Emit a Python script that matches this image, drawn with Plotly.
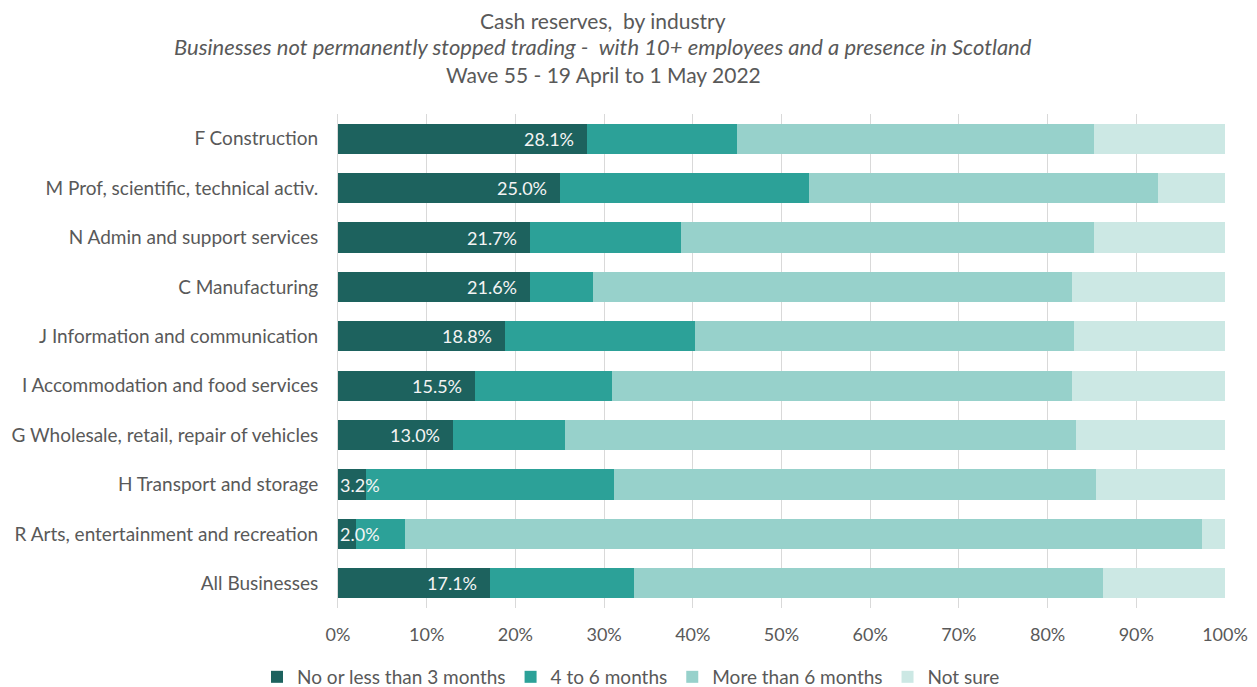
import plotly.graph_objects as go

categories = [
    "F Construction",
    "M Prof, scientific, technical activ.",
    "N Admin and support services",
    "C Manufacturing",
    "J Information and communication",
    "I Accommodation and food services",
    "G Wholesale, retail, repair of vehicles",
    "H Transport and storage",
    "R Arts, entertainment and recreation",
    "All Businesses",
]
no_or_less_3 = [28.1, 25.0, 21.7, 21.6, 18.8, 15.5, 13.0, 3.2, 2.0, 17.1]
m4_to_6 = [16.9, 28.1, 17.0, 7.2, 21.5, 15.4, 12.6, 27.9, 5.6, 16.3]
more_6 = [40.2, 39.3, 46.5, 54.0, 42.7, 51.8, 57.6, 54.3, 89.8, 52.8]
not_sure = [14.8, 7.6, 14.8, 17.2, 17.0, 17.3, 16.8, 14.6, 2.6, 13.8]

series_names = ["No or less than 3 months", "4 to 6 months", "More than 6 months", "Not sure"]
series_values = [no_or_less_3, m4_to_6, more_6, not_sure]
colors = ["#1d625e", "#2ca198", "#97d1cb", "#cce8e4"]
tick_vals = [0, 10, 20, 30, 40, 50, 60, 70, 80, 90, 100]
tick_text = [f"{v}%" for v in tick_vals]

FONT = "Lato, Carlito, Calibri, sans-serif"
GREY = "#595959"

fig = go.Figure()
for name, vals, col in zip(series_names, series_values, colors):
    fig.add_trace(go.Bar(
        y=categories, x=vals, name=name, orientation="h",
        marker=dict(color=col, line=dict(width=0)),
        hoverinfo="skip",
    ))

annotations = [
    dict(text="Cash reserves,  by industry", xref="paper", yref="paper",
         x=0.299, y=1.190, xanchor="center", yanchor="middle", showarrow=False,
         font=dict(size=21, color=GREY)),
    dict(text="<i>Businesses not permanently stopped trading -  with 10+ employees and a presence in Scotland</i>",
         xref="paper", yref="paper",
         x=0.299, y=1.136, xanchor="center", yanchor="middle", showarrow=False,
         font=dict(size=22, color=GREY)),
    dict(text="Wave 55 - 19 April to 1 May 2022", xref="paper", yref="paper",
         x=0.299, y=1.079, xanchor="center", yanchor="middle", showarrow=False,
         font=dict(size=21, color=GREY)),
]
# value labels for the first series, placed at the end of each dark segment
for cat, v in zip(categories, no_or_less_3):
    if v >= 6:
        annotations.append(dict(
            text=f"{v:.1f}%", x=v, y=cat, xref="x", yref="y",
            xanchor="right", yanchor="middle", xshift=-11, showarrow=False,
            font=dict(size=18, color="#f4f4f4")))
    else:
        annotations.append(dict(
            text=f"{v:.1f}%", x=0, y=cat, xref="x", yref="y",
            xanchor="left", yanchor="middle", xshift=0, showarrow=False,
            font=dict(size=18, color="#f4f4f4")))

fig.update_layout(
    barmode="stack",
    bargap=0.39,
    width=1257, height=687,
    margin=dict(l=338, r=32, t=114, b=79),
    paper_bgcolor="white", plot_bgcolor="white",
    font=dict(family=FONT, color=GREY, size=18),
    showlegend=True,
    legend=dict(
        orientation="h", xref="container", yref="container",
        x=0.502, xanchor="center", y=0.0146, yanchor="middle",
        font=dict(size=19, color=GREY, family=FONT),
        traceorder="normal", itemwidth=30,
    ),
    xaxis=dict(
        range=[0, 100], tickvals=tick_vals, ticktext=tick_text,
        showgrid=True, gridcolor="#d9d9d9", gridwidth=1, zeroline=False,
        tickfont=dict(size=18, color=GREY), ticks="", fixedrange=True,
        automargin=False, ticklabelstandoff=14,
    ),
    yaxis=dict(
        autorange="reversed", showline=True, linecolor="#d9d9d9", linewidth=1,
        tickfont=dict(size=19, color=GREY), ticks="", ticklabelstandoff=15,
        automargin=False, fixedrange=True,
    ),
    annotations=annotations,
)

fig.write_html("out.html", config={"displayModeBar": False},
               post_script="document.body.style.margin='0';")
